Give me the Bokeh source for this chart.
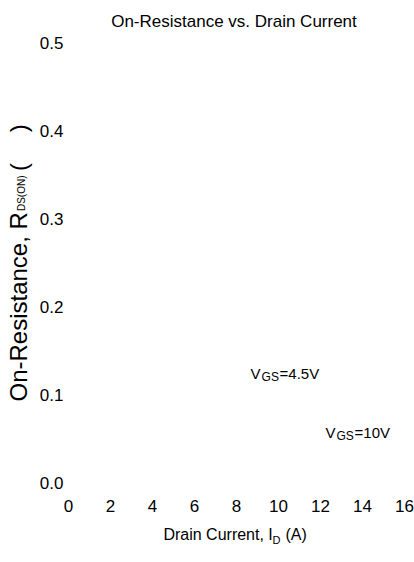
import math
from bokeh.plotting import figure
from bokeh.models import Range1d, FixedTicker, PrintfTickFormatter, Label, ColumnDataSource, LinearAxis
from bokeh.core.properties import value
from bokeh.embed import file_html
from bokeh.resources import INLINE

# ---- data ----
x_ticks = [0, 2, 4, 6, 8, 10, 12, 14, 16]
y_ticks = [0.0, 0.1, 0.2, 0.3, 0.4, 0.5]
vgs_main = ["V", "V"]
vgs_sub = ["GS", "GS"]
vgs_rest = ["=4.5V", "=10V"]
vgs_x = [8.67, 12.24]
vgs_y = [0.124, 0.057]

title_text = "On-Resistance vs. Drain Current"
xlabel_main, xlabel_sub, xlabel_rest = "Drain Current, I", "D", "(A)"
ylabel_main, ylabel_sub, ylabel_open, ylabel_close = "On-Resistance, R", "DS(ON)", "(", ")"

FONT = "Liberation Sans"

p = figure(width=414, height=562, output_backend="svg", toolbar_location=None,
           x_range=Range1d(-68 / 21, 346 / 21), y_range=Range1d(-80 / 880, 482 / 880),
           x_axis_location=None, y_axis_location=None,
           min_border_left=0, min_border_right=0, min_border_top=0, min_border_bottom=0)
p.title = None
p.outline_line_color = None
p.background_fill_color = "white"
p.border_fill_color = "white"
p.grid.visible = False

xax = LinearAxis(fixed_location=0, ticker=FixedTicker(ticks=x_ticks))
yax = LinearAxis(fixed_location=0, ticker=FixedTicker(ticks=y_ticks),
                 formatter=PrintfTickFormatter(format="%.1f"))
for ax in (xax, yax):
    ax.axis_line_color = None
    ax.major_tick_line_color = None
    ax.minor_tick_line_color = None
    ax.major_tick_out = 0
    ax.major_tick_in = 0
    ax.minor_tick_out = 0
    ax.major_label_text_font = FONT
    ax.major_label_text_font_size = "17px"
    ax.major_label_text_color = "black"
xax.major_label_standoff = 17
yax.major_label_standoff = 5
p.add_layout(xax, "below")
p.add_layout(yax, "left")

# V_GS annotations
src = ColumnDataSource(dict(x=vgs_x, y=vgs_y, main=vgs_main, sub=vgs_sub, rest=vgs_rest))
p.text(x="x", y="y", text="main", source=src, text_font=value(FONT), text_font_size="15px",
       text_baseline="alphabetic", text_align="left", text_color="black")
p.text(x="x", y="y", text="sub", source=src, text_font=value(FONT), text_font_size="12px",
       text_baseline="alphabetic", text_align="left", text_color="black", x_offset=11, y_offset=4)
p.text(x="x", y="y", text="rest", source=src, text_font=value(FONT), text_font_size="15px",
       text_baseline="alphabetic", text_align="left", text_color="black", x_offset=29)

def lab(x, y, text, size, **kw):
    p.add_layout(Label(x=x, y=y, text=text, text_font=FONT, text_font_size=size,
                       text_baseline="alphabetic", text_color="black", **kw))

# title
lab(7.88, 0.5239, title_text, "17px", text_align="center")

# x axis label
lab(4.52, -0.0591, xlabel_main, "16px", text_align="left")
lab(9.714, -0.0653, xlabel_sub, "11px", text_align="left")
lab(10.33, -0.0591, xlabel_rest, "16px", text_align="left")

# y axis label (rotated)
rot = math.pi / 2
lab(-2.40, 0.092, ylabel_main, "24px", angle=rot, text_align="left")
lab(-2.24, 0.3085, ylabel_sub, "10px", angle=rot, text_align="left")
lab(-2.40, 0.3540, ylabel_open, "24px", angle=rot, text_align="left")
lab(-2.40, 0.3980, ylabel_close, "24px", angle=rot, text_align="left")

open("out.html", "w").write(file_html(p, INLINE))
